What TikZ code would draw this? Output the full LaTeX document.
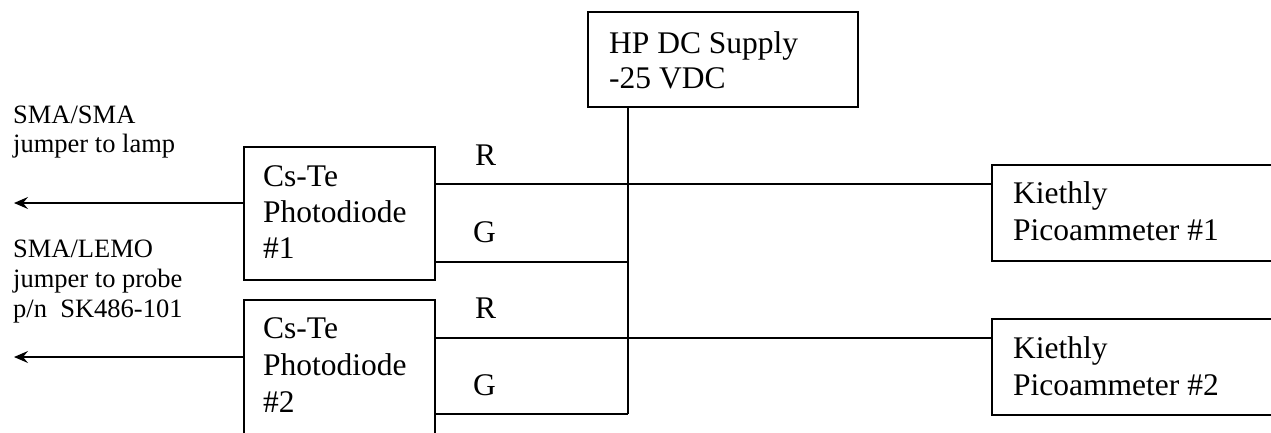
\documentclass[tikz,border=0pt]{standalone}
\usepackage{fontspec}
\setmainfont{Liberation Serif}
\usetikzlibrary{arrows.meta}
\begin{document}
\begin{tikzpicture}[x=1pt,y=-1pt,
  box/.style={draw, line width=1.6pt, rectangle, inner sep=0pt},
  boxtext/.style={anchor=base west, align=left, inner sep=0pt, font=\fontsize{31.5}{36}\selectfont},
  sidetext/.style={anchor=base west, align=left, inner sep=0pt, font=\fontsize{26.5}{30}\selectfont},
  wire/.style={line width=1.5pt},
  outarrow/.style={line width=1.5pt, -{Stealth[length=14pt,width=12pt,inset=5pt]}}]
\useasboundingbox (0,0) rectangle (1271,432);
\clip (0,0) rectangle (1271,432);
% boxes
\node[box, minimum width=270pt, minimum height=95pt] (S) at (723,59.5) {};
\node[box, minimum width=191pt, minimum height=133pt] (PD1) at (339.5,213.5) {};
\node[box, minimum width=191pt, minimum height=145pt] (PD2) at (339.5,372.5) {};
\node[box, minimum width=298pt, minimum height=96pt] (K1) at (1141,213) {};
\node[box, minimum width=298pt, minimum height=96pt] (K2) at (1141,367) {};
% texts (anchor = baseline of the last line)
\node[boxtext, font=\fontsize{31.5}{35}\selectfont] (St) at (609,88) {HP DC Supply\\-25 VDC};
\node[boxtext, font=\fontsize{31.5}{36}\selectfont] (PD1t) at (263,258) {Cs-Te\\Photodiode\\\#1};
\node[boxtext, font=\fontsize{31.5}{37}\selectfont] (PD2t) at (263,412) {Cs-Te\\Photodiode\\\#2};
\node[boxtext, font=\fontsize{31.5}{37}\selectfont] (K1t) at (1013,240) {Kiethly\\Picoammeter \#1};
\node[boxtext, font=\fontsize{31.5}{37}\selectfont] (K2t) at (1013,395) {Kiethly\\Picoammeter \#2};
\node[sidetext, font=\fontsize{26.5}{29}\selectfont] (L1) at (13,152) {SMA/SMA\\jumper to lamp};
\node[sidetext] (L2) at (13,317) {SMA/LEMO\\jumper to probe\\p/n\ \ SK486-101};
\node[boxtext] (R1) at (475,165) {R};
\node[boxtext] (G1) at (473,242) {G};
\node[boxtext] (R2) at (475,318) {R};
\node[boxtext] (G2) at (473,395) {G};
% coordinates
\coordinate (vbot) at (628,414);
\coordinate (a1) at (14,203);
\coordinate (a2) at (14,357);
% wires
\draw[wire] (vbot |- S.south) -- (vbot);
\draw[wire] (PD1.east |- 0,184) -- (K1.west |- 0,184);
\draw[wire] (PD1.east |- 0,262) -- (vbot |- 0,262);
\draw[wire] (PD2.east |- 0,338) -- (K2.west |- 0,338);
\draw[wire] (PD2.east |- vbot) -- (vbot);
\draw[outarrow] (PD1.west |- a1) -- (a1);
\draw[outarrow] (PD2.west |- a2) -- (a2);
\end{tikzpicture}
\end{document}
